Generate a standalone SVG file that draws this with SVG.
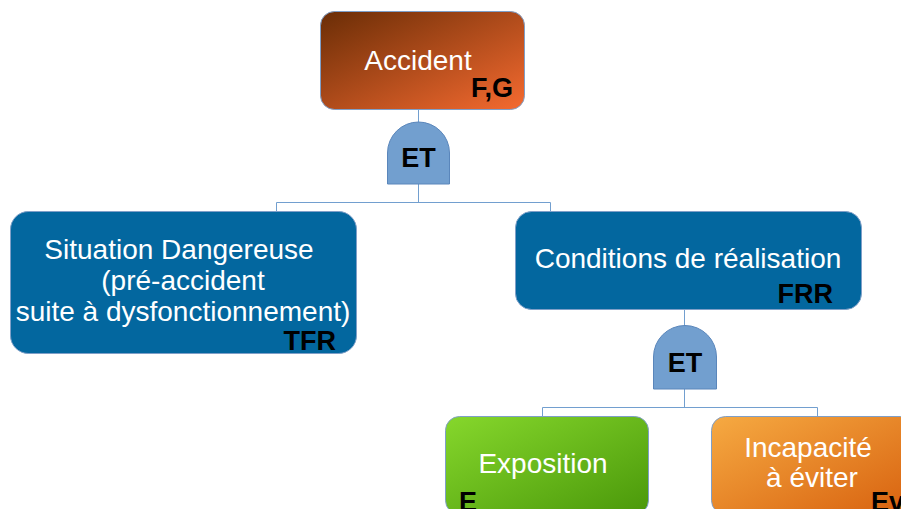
<svg xmlns="http://www.w3.org/2000/svg" width="901" height="509" viewBox="0 0 901 509">
<defs>
<linearGradient id="gAcc" x1="0" y1="0" x2="1" y2="1">
<stop offset="0" stop-color="#6a2d06"/><stop offset="1" stop-color="#f56a30"/>
</linearGradient>
<linearGradient id="gGreen" x1="0" y1="0" x2="1" y2="1">
<stop offset="0" stop-color="#86d72c"/><stop offset="1" stop-color="#4a980a"/>
</linearGradient>
<linearGradient id="gOrange" x1="0" y1="0" x2="1" y2="1">
<stop offset="0" stop-color="#f6aa42"/><stop offset="1" stop-color="#d7600e"/>
</linearGradient>
<style>
.box{stroke:#7f9fc8;stroke-width:1}
.blue{fill:#03679f}
.gate{fill:#729fcf;stroke:#5a86bb;stroke-width:1}
.lbl{font-family:"Liberation Sans",Arial,sans-serif;font-size:28px;fill:#ffffff;text-anchor:middle}
.tag{font-family:"Liberation Sans",Arial,sans-serif;font-size:27px;font-weight:bold;fill:#000000}
.et{font-family:"Liberation Sans",Arial,sans-serif;font-size:27px;font-weight:bold;fill:#000000;text-anchor:middle}
.con{fill:none;stroke:#729fcf;stroke-width:1}
</style>
</defs>
<rect width="901" height="509" fill="#ffffff"/>
<g id="connectors">
<path class="con" d="M418.5 109 V122"/>
<path class="con" d="M418.5 184 V202.5 M276.5 211 V202.5 H550.5 V211"/>
<path class="con" d="M684.5 309 V326"/>
<path class="con" d="M684.5 389 V407.5 M542.5 416 V407.5 H817.5 V416"/>
</g>
<g id="accident">
<rect class="box" x="320.5" y="11.5" width="204" height="98" rx="14" fill="url(#gAcc)"/>
<text class="lbl" x="418" y="70">Accident</text>
<text class="tag" x="513" y="97" text-anchor="end">F,G</text>
</g>
<g id="gate1">
<path class="gate" d="M387.5 184 V153 A31 31 0 0 1 449.5 153 V184 Z"/>
<text class="et" x="418.5" y="167">ET</text>
</g>
<g id="situation">
<rect class="box blue" x="10.5" y="211.5" width="346" height="142" rx="18"/>
<text class="lbl" x="179" y="259">Situation Dangereuse</text>
<text class="lbl" x="183" y="290">(pré-accident</text>
<text class="lbl" x="183" y="321">suite à dysfonctionnement)</text>
<text class="tag" x="336" y="350" text-anchor="end">TFR</text>
</g>
<g id="conditions">
<rect class="box blue" x="515.5" y="211.5" width="346" height="98" rx="16"/>
<text class="lbl" x="688" y="268">Conditions de réalisation</text>
<text class="tag" x="833" y="303" text-anchor="end">FRR</text>
</g>
<g id="gate2">
<path class="gate" d="M653.5 389 V357 A31.5 31.5 0 0 1 716.5 357 V389 Z"/>
<text class="et" x="685" y="372">ET</text>
</g>
<g id="exposition">
<rect class="box" x="445.5" y="416.5" width="203" height="98" rx="14" fill="url(#gGreen)"/>
<text class="lbl" x="543" y="473">Exposition</text>
<text class="tag" x="459" y="511">E</text>
</g>
<g id="incapacite">
<rect class="box" x="711.5" y="416.5" width="203" height="98" rx="14" fill="url(#gOrange)"/>
<text class="lbl" x="808" y="457">Incapacité</text>
<text class="lbl" x="812" y="487">à éviter</text>
<text class="tag" x="871" y="511">Ev</text>
</g>
</svg>
